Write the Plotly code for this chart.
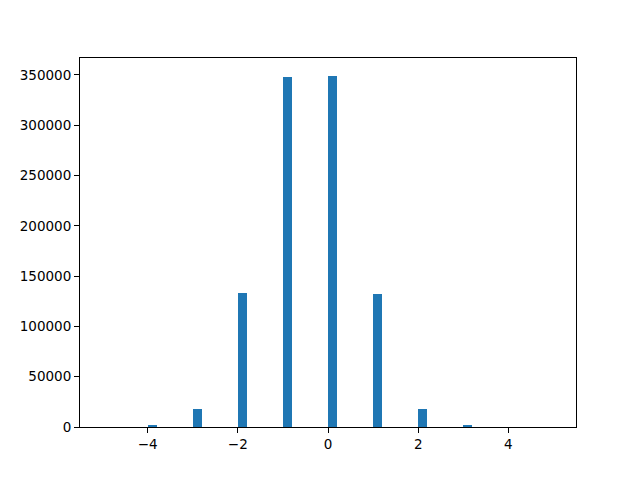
import plotly.graph_objects as go

values = [-5, -4, -3, -2, -1, 0, 1, 2, 3, 4]
counts = [0, 1100, 18300, 133000, 347600, 349300, 131800, 18300, 1100, 0]
bin_width = 0.2
x_ticks = [-4, -2, 0, 2, 4]
y_ticks = [0, 50000, 100000, 150000, 200000, 250000, 300000, 350000]

fig = go.Figure(go.Bar(
    x=[v + bin_width / 2 for v in values],
    y=counts,
    width=bin_width,
    marker=dict(color="#1f77b4", line=dict(width=0)),
))

axis_common = dict(
    showline=True, linecolor="black", linewidth=1, mirror=True,
    ticks="outside", ticklen=5, tickcolor="black", tickwidth=1,
    showgrid=False, zeroline=False,
    tickfont=dict(family="DejaVu Sans", size=13.5, color="black"),
)

fig.update_layout(
    width=640, height=480,
    margin=dict(l=80, r=64, t=58, b=53),
    plot_bgcolor="white", paper_bgcolor="white",
    showlegend=False,
    bargap=0,
    xaxis=dict(range=[-5.5, 5.5], tickvals=x_ticks, ticktext=[str(t).replace("-", "−") for t in x_ticks], **axis_common),
    yaxis=dict(range=[0, 366800], tickvals=y_ticks, ticktext=[str(t) for t in y_ticks], **axis_common),
)

fig.write_html(
    "out.html",
    config={"displayModeBar": False},
    post_script="document.body.style.margin='0';document.body.style.overflow='hidden';",
)
